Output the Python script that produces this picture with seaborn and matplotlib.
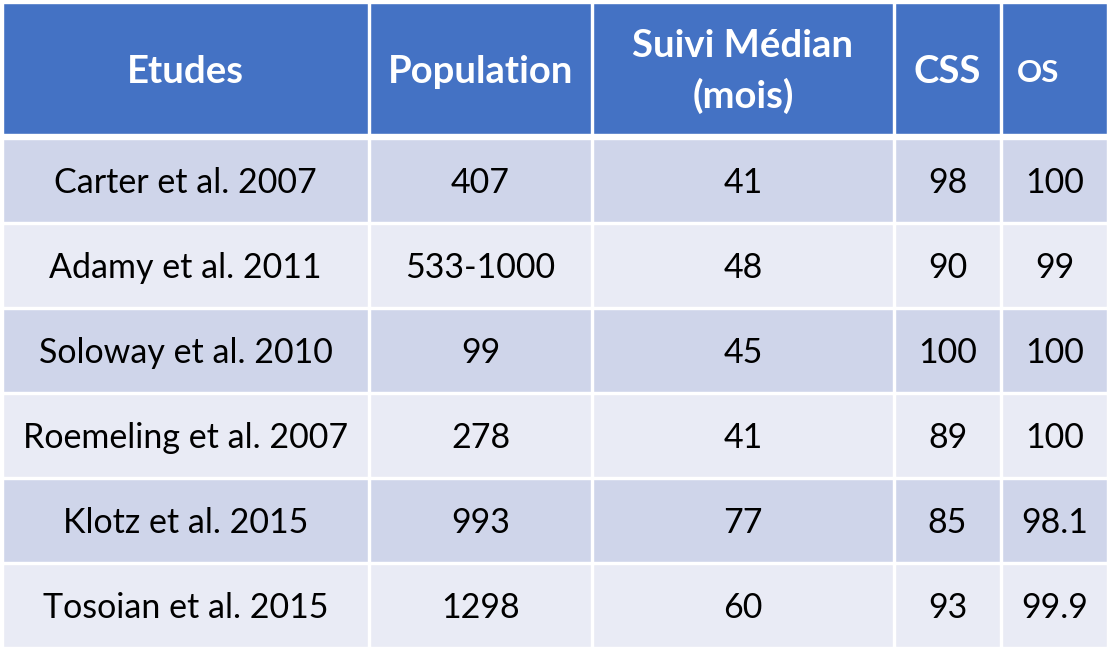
import matplotlib
matplotlib.use("Agg")
import matplotlib.pyplot as plt
import seaborn as sns

# ---- data ----
headers = ["Etudes", "Population", "Suivi Médian\n(mois)", "CSS", "OS"]
etudes = ["Carter et al. 2007", "Adamy et al. 2011", "Soloway et al. 2010",
          "Roemeling et al. 2007", "Klotz et al. 2015", "Tosoian et al. 2015"]
population = ["407", "533-1000", "99", "278", "993", "1298"]
suivi = ["41", "48", "45", "41", "77", "60"]
css = ["98", "90", "100", "89", "85", "93"]
os_vals = ["100", "99", "100", "100", "98.1", "99.9"]

sns.set_theme(style="white")
plt.rcParams["font.family"] = ["Lato", "DejaVu Sans"]

W, H = 1111, 652
fig = plt.figure(figsize=(W / 100, H / 100), dpi=100)
ax = fig.add_axes([0, 0, 1, 1])
ax.set_xlim(0, W)
ax.set_ylim(H, 0)
ax.axis("off")

col_edges = [(3, 365), (370, 221), (593, 300), (895, 105), (1002, 105)]
centers = [x + w / 2 for x, w in col_edges]

HEADER_COLOR = "#4472C4"
BAND1 = "#CFD5EA"
BAND2 = "#E9EBF5"

# header cells
ax.broken_barh(col_edges, (3, 131), facecolors=HEADER_COLOR)

columns = [etudes, population, suivi, css, os_vals]
row_top0, row_step, row_h = 139, 85, 83
for i in range(len(etudes)):
    y0 = row_top0 + row_step * i
    ax.broken_barh(col_edges, (y0, row_h), facecolors=BAND1 if i % 2 == 0 else BAND2)
    for c, col in enumerate(columns):
        ax.text(centers[c], y0 + 54, col[i], ha="center", va="baseline",
                fontsize=24.5, color="black")

# header text
hfs = 27.5
ax.text(centers[0], 83, headers[0], ha="center", va="baseline", fontsize=hfs,
        fontweight="bold", color="white")
ax.text(centers[1], 83, headers[1], ha="center", va="baseline", fontsize=hfs,
        fontweight="bold", color="white")
l1, l2 = headers[2].split("\n")
ax.text(centers[2], 57, l1, ha="center", va="baseline", fontsize=hfs,
        fontweight="bold", color="white")
ax.text(centers[2], 108, l2, ha="center", va="baseline", fontsize=hfs,
        fontweight="bold", color="white")
ax.text(centers[3], 83, headers[3], ha="center", va="baseline", fontsize=hfs,
        fontweight="bold", color="white")
ax.text(1017, 82, headers[4], ha="left", va="baseline", fontsize=22.5,
        fontweight="bold", color="white")

fig.savefig("out.png", dpi=100, facecolor="white")
